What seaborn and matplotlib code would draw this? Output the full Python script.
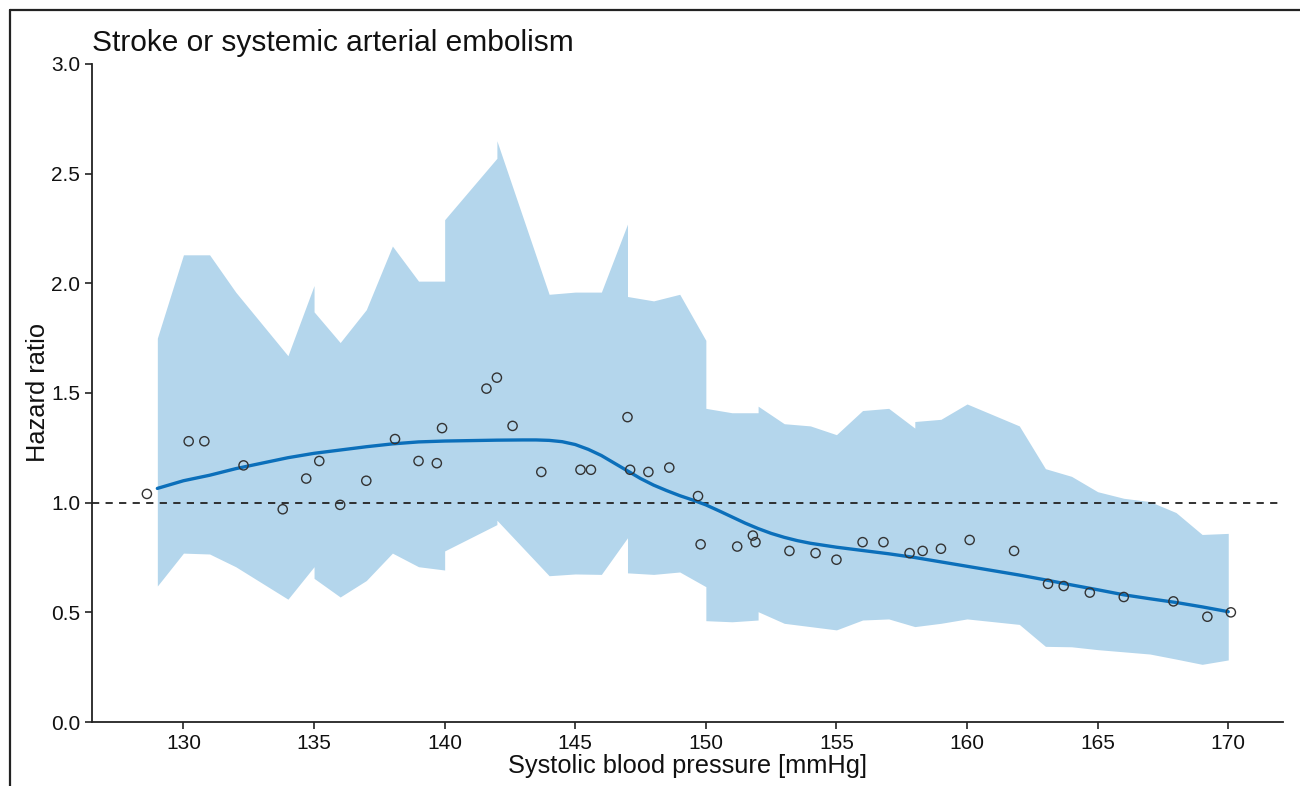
import numpy as np
import pandas as pd
import matplotlib
matplotlib.use('Agg')
import matplotlib.pyplot as plt
import seaborn as sns

# Puntos observados (hazard ratio por presion sistolica)
pts_x = [128.6, 130.2, 130.8, 132.3, 133.8, 134.7, 135.2, 136.0, 137.0, 138.1,
         139.0, 139.7, 139.9, 141.6, 142.0, 142.6, 143.7, 145.2, 145.6, 147.0,
         147.1, 147.8, 148.6, 149.7, 149.8, 151.2, 151.8, 151.9, 153.2, 154.2,
         155.0, 156.0, 156.8, 157.8, 158.3, 159.0, 160.1, 161.8, 163.1, 163.7,
         164.7, 166.0, 167.9, 169.2, 170.1]
pts_y = [1.04, 1.28, 1.28, 1.17, 0.97, 1.11, 1.19, 0.99, 1.10, 1.29,
         1.19, 1.18, 1.34, 1.52, 1.57, 1.35, 1.14, 1.15, 1.15, 1.39,
         1.15, 1.14, 1.16, 1.03, 0.81, 0.80, 0.85, 0.82, 0.78, 0.77,
         0.74, 0.82, 0.82, 0.77, 0.78, 0.79, 0.83, 0.78, 0.63, 0.62,
         0.59, 0.57, 0.55, 0.48, 0.50]

# Curva suavizada (leida cada 1 mmHg, cada 0.5 en la zona de la caida)
curve_x = [129, 130, 131, 132, 133, 134, 135, 136, 137, 138, 139, 140, 141, 142, 143,
           143.5, 144, 144.5, 145, 145.5, 146, 146.5, 147, 147.5, 148, 148.5, 149, 149.5,
           150, 150.5, 151, 151.5, 152, 152.5, 153, 153.5, 154, 155, 156, 157, 158, 159,
           160, 161, 162, 163, 164, 165, 166, 167, 168, 169, 170]
curve_y = [1.065, 1.10, 1.125, 1.155, 1.18, 1.205, 1.225, 1.24, 1.255, 1.268, 1.277, 1.281, 1.283, 1.285, 1.286,
           1.286, 1.284, 1.278, 1.265, 1.243, 1.215, 1.18, 1.145, 1.11, 1.08, 1.055, 1.032, 1.012,
           0.99, 0.963, 0.935, 0.907, 0.882, 0.86, 0.842, 0.827, 0.815, 0.797, 0.782, 0.767, 0.75, 0.73,
           0.71, 0.69, 0.67, 0.648, 0.625, 0.603, 0.58, 0.562, 0.545, 0.525, 0.503]

# Intervalo de confianza (banda)
band_x = [129, 130, 131, 132, 134, 135, 135, 136, 137, 138, 139, 140, 140, 142, 142,
          144, 145, 146, 147, 147, 148, 149, 150, 150, 151, 152, 152, 153, 154, 155,
          156, 157, 158, 158, 159, 160, 162, 163, 164, 165, 166, 167, 168, 169, 170]
band_hi = [1.75, 2.13, 2.13, 1.96, 1.67, 1.99, 1.87, 1.73, 1.88, 2.17, 2.01, 2.01, 2.29, 2.57, 2.65,
           1.95, 1.96, 1.96, 2.27, 1.94, 1.92, 1.95, 1.74, 1.43, 1.41, 1.41, 1.44, 1.36, 1.35, 1.31,
           1.42, 1.43, 1.34, 1.37, 1.38, 1.45, 1.35, 1.155, 1.12, 1.05, 1.02, 1.005, 0.955, 0.855, 0.86]
band_lo = [0.62, 0.77, 0.766, 0.708, 0.56, 0.708, 0.655, 0.57, 0.645, 0.77, 0.708, 0.693, 0.78, 0.90, 0.92,
           0.667, 0.675, 0.673, 0.84, 0.68, 0.673, 0.684, 0.617, 0.462, 0.457, 0.465, 0.503, 0.45, 0.435, 0.42,
           0.465, 0.47, 0.435, 0.435, 0.45, 0.47, 0.445, 0.345, 0.343, 0.33, 0.32, 0.31, 0.287, 0.263, 0.283]

x_ticks = [130, 135, 140, 145, 150, 155, 160, 165, 170]
y_ticks = [0.0, 0.5, 1.0, 1.5, 2.0, 2.5, 3.0]

sns.set_theme(style='ticks')
plt.rcParams['font.family'] = ['Liberation Sans', 'DejaVu Sans']

fig = plt.figure(figsize=(13, 7.86), dpi=100)
ax = fig.add_axes([0.0708, 0.0814, 0.9162, 0.8372])

ax.fill_between(band_x, band_lo, band_hi, color='#b4d6ec', linewidth=0, zorder=1)
ax.axhline(1.0, color='#222222', linestyle=(0, (4, 3.5)), linewidth=1.3, zorder=2)

df_curve = pd.DataFrame({'sbp': curve_x, 'hr': curve_y})
sns.lineplot(data=df_curve, x='sbp', y='hr', ax=ax, color='#0b6fba', linewidth=2.4, zorder=3)

df_pts = pd.DataFrame({'sbp': pts_x, 'hr': pts_y})
sns.scatterplot(data=df_pts, x='sbp', y='hr', ax=ax, s=44, facecolor='none',
                edgecolor='#333333', linewidth=1.0, zorder=4)

ax.set_xlim(126.5, 172.1)
ax.set_ylim(0, 3.0)
ax.set_xticks(x_ticks)
ax.set_yticks(y_ticks)
ax.set_yticklabels([f'{v:.1f}' for v in y_ticks])
ax.tick_params(axis='both', labelsize=15, length=5, width=1.2, color='#222222', labelcolor='#111111')
for s in ['left', 'bottom']:
    ax.spines[s].set_linewidth(1.3)
    ax.spines[s].set_color('#222222')
sns.despine(ax=ax)

ax.set_xlabel('Systolic blood pressure [mmHg]', fontsize=18.3, labelpad=1, color='#111111')
ax.set_ylabel('Hazard ratio', fontsize=18.3, labelpad=1, color='#111111')
ax.set_title('Stroke or systemic arterial embolism', fontsize=21.5, loc='left', pad=9, color='#111111')

# marco de la captura (arriba e izquierda)
fig.add_artist(plt.Line2D([0.0077, 1.0], [0.987, 0.987], transform=fig.transFigure, color='#222222', lw=1.6))
fig.add_artist(plt.Line2D([0.0077, 0.0077], [0.0, 0.987], transform=fig.transFigure, color='#222222', lw=1.6))

fig.savefig('out.png', dpi=100)
